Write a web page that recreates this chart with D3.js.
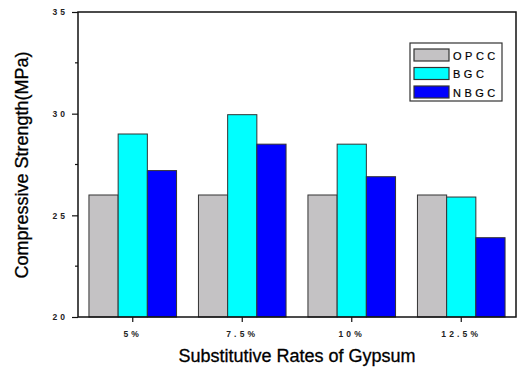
<!DOCTYPE html>
<html>
<head>
<meta charset="utf-8">
<script src="https://cdn.jsdelivr.net/npm/d3@7"></script>
<style>
  body { margin: 0; background: #fff; }
  text { font-family: Arial, "Liberation Sans", sans-serif; }
</style>
</head>
<body>
<div id="chart"></div>
<script>
// data
var rates  = ['5%', '7.5%', '10%', '12.5%']
var series = ['OPCC', 'BGC', 'NBGC']
var opcc   = [26, 26, 26, 26]
var bgc    = [29, 29.95, 28.5, 25.9]
var nbgc   = [27.2, 28.5, 26.9, 23.9]
var yTicks = [20, 25, 30, 35]
var yMinor = [22.5, 27.5, 32.5]

var colors = { OPCC: '#c4c2c4', BGC: '#00ffff', NBGC: '#0000ff' }
var values = { OPCC: opcc, BGC: bgc, NBGC: nbgc }

// plot area (note: "top" is taken by window.top)
var W = 519, H = 367
var plotL = 78, plotR = 516, plotT = 12, plotB = 317

var svg = d3.select('#chart').append('svg')
    .attr('width', W)
    .attr('height', H)

var x  = d3.scaleBand().domain(rates).range([plotL, plotR]).padding(0)
var xs = d3.scaleBand().domain(series).range([0, x.bandwidth() * 0.8])
var y  = d3.scaleLinear().domain([20, 35]).range([plotB, plotT])

// bars
var rows = []
rates.forEach(function(r, i) {
    series.forEach(function(s) { rows.push({ rate: r, series: s, value: values[s][i] }) })
})

svg.selectAll('rect.bar').data(rows).enter()
  .append('rect')
    .attr('class', 'bar')
    .attr('x',      d => x(d.rate) + x.bandwidth() * 0.1 + xs(d.series))
    .attr('width',  xs.bandwidth())
    .attr('y',      d => y(d.value))
    .attr('height', d => y(20) - y(d.value))
    .attr('fill',   d => colors[d.series])
    .attr('stroke', '#333')
    .attr('stroke-width', 1)

// frame
svg.append('rect')
    .attr('x', plotL).attr('y', plotT)
    .attr('width', plotR - plotL).attr('height', plotB - plotT)
    .attr('fill', 'none')
    .attr('stroke', '#111')
    .attr('stroke-width', 1.5)

// y axis
var yAxis = svg.append('g')
    .attr('transform', `translate(${plotL},0)`)
    .call(d3.axisLeft(y).tickValues(yTicks).tickSize(6).tickPadding(4).tickFormat(d3.format('d')))
yAxis.select('.domain').remove()
yAxis.selectAll('line').attr('stroke', '#111').attr('stroke-width', 1.2)
yAxis.selectAll('text')
    .attr('font-size', 8.5)
    .attr('font-weight', 'bold')
    .attr('letter-spacing', 3)
    .attr('fill', '#222')

svg.append('g').selectAll('line').data(yMinor).enter()
  .append('line')
    .attr('x1', plotL - 3).attr('x2', plotL)
    .attr('y1', d => y(d)).attr('y2', d => y(d))
    .attr('stroke', '#111').attr('stroke-width', 1.2)

// x axis
var xAxis = svg.append('g')
    .attr('transform', `translate(0,${plotB})`)
    .call(d3.axisBottom(x).tickSize(5).tickPadding(9))
xAxis.select('.domain').remove()
xAxis.selectAll('line').attr('stroke', '#111').attr('stroke-width', 1.2)
xAxis.selectAll('text')
    .attr('font-size', 8.5)
    .attr('font-weight', 'bold')
    .attr('letter-spacing', 3.2)
    .attr('fill', '#222')

// axis titles
svg.append('text')
    .attr('x', 297).attr('y', 362)
    .attr('text-anchor', 'middle')
    .attr('font-size', 18)
    .attr('stroke', '#000').attr('stroke-width', 0.3)
    .text('Substitutive Rates of Gypsum')

svg.append('text')
    .attr('transform', 'translate(28,165) rotate(-90)')
    .attr('text-anchor', 'middle')
    .attr('font-size', 18)
    .attr('stroke', '#000').attr('stroke-width', 0.3)
    .text('Compressive Strength(MPa)')

// legend
var lg = svg.append('g').attr('transform', 'translate(410,43)')
lg.append('rect')
    .attr('width', 92).attr('height', 58)
    .attr('fill', '#fff')
    .attr('stroke', '#333').attr('stroke-width', 1.2)

var item = lg.selectAll('g.item').data(series).enter()
  .append('g')
    .attr('class', 'item')
    .attr('transform', (d, i) => `translate(4,${6 + i * 18.5})`)
item.append('rect')
    .attr('width', 35).attr('height', 12)
    .attr('fill', d => colors[d])
    .attr('stroke', '#333').attr('stroke-width', 1.2)
item.append('text')
    .attr('x', 39).attr('y', 10.5)
    .attr('font-size', 11)
    .attr('letter-spacing', 3.5)
    .attr('stroke', '#000').attr('stroke-width', 0.2)
    .text(d => d)
</script>
</body>
</html>
